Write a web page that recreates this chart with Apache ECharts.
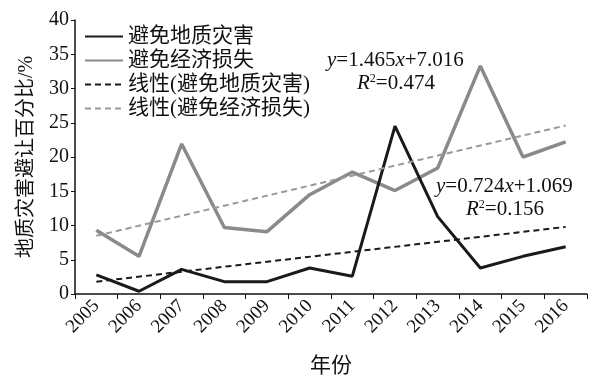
<!DOCTYPE html>
<html><head><meta charset="utf-8">
<script src="https://cdn.jsdelivr.net/npm/echarts@6/dist/echarts.min.js"></script>
<style>html,body{margin:0;padding:0;background:#fff}#c{width:607px;height:382px}</style>
</head><body><div id="c"></div>
<script>
var years = ['2005','2006','2007','2008','2009','2010','2011','2012','2013','2014','2015','2016'];
var disaster = [2.8, 0.4, 3.6, 1.8, 1.8, 3.8, 2.6, 24.5, 11.3, 3.8, 5.5, 6.9];
var economic = [9.3, 5.5, 21.9, 9.7, 9.1, 14.5, 17.8, 15.1, 18.4, 33.3, 20.0, 22.2];
var trendDisaster = [1.8, null, null, null, null, null, null, null, null, null, null, 9.8];
var trendEconomic = [8.5, null, null, null, null, null, null, null, null, null, null, 24.6];
var yTicks = [0, 5, 10, 15, 20, 25, 30, 35, 40];
var names = ['避免地质灾害', '避免经济损失', '线性(避免地质灾害)', '线性(避免经济损失)'];

var FONT = "'Liberation Serif', 'Noto Sans CJK SC', serif";
var chart = echarts.init(document.getElementById('c'));
var rich = {
  i: {fontFamily: FONT, fontStyle: 'italic', fontSize: 21, color: '#111'},
  n: {fontFamily: FONT, fontSize: 21, color: '#111'},
  s: {fontFamily: FONT, fontSize: 12, color: '#111', verticalAlign: 'top', padding: [0,0,9,0]}
};
function eq(x, y, lines) {
  return {type: 'text', left: x, top: y, style: {text: lines, rich: rich, font: '21px ' + FONT, fill: '#111'}};
}
chart.setOption({
  animation: false,
  backgroundColor: '#fff',
  textStyle: {fontFamily: FONT},
  grid: {left: 75, right: 20, top: 20, bottom: 86, containLabel: false},
  legend: {
    orient: 'vertical', left: 79, top: 21, itemWidth: 38, itemHeight: 14, itemGap: 3,
    itemStyle: {opacity: 0},
    textStyle: {fontFamily: FONT, fontSize: 21, color: '#111'},
    data: names
  },
  xAxis: {
    type: 'category', data: years, boundaryGap: true,
    name: '年份', nameLocation: 'middle', nameGap: 62,
    nameTextStyle: {fontFamily: FONT, fontSize: 21, color: '#111'},
    axisLine: {lineStyle: {color: '#111', width: 1.5}},
    axisTick: {show: true, length: 5, lineStyle: {color: '#111'}, alignWithLabel: false},
    axisLabel: {rotate: 45, fontSize: 19, color: '#111', fontFamily: FONT, margin: 9, interval: 0}
  },
  yAxis: {
    type: 'value', min: yTicks[0], max: yTicks[yTicks.length - 1], interval: 5,
    name: '地质灾害避让百分比/%', nameLocation: 'middle', nameGap: 38,
    nameTextStyle: {fontFamily: FONT, fontSize: 20, color: '#111'},
    axisLine: {show: true, lineStyle: {color: '#111', width: 1.5}},
    axisTick: {show: true, length: 4, lineStyle: {color: '#111'}},
    splitLine: {show: false},
    axisLabel: {fontSize: 20, color: '#111', fontFamily: FONT, margin: 6}
  },
  series: [
    {name: names[0], type: 'line', data: disaster, symbol: 'none', z: 4,
     lineStyle: {color: '#1a1a1a', width: 3}, itemStyle: {color: '#1a1a1a'}},
    {name: names[1], type: 'line', data: economic, symbol: 'none', z: 3,
     lineStyle: {color: '#8a8a8a', width: 3.5}, itemStyle: {color: '#8a8a8a'}},
    {name: names[2], type: 'line', data: trendDisaster, symbol: 'none', connectNulls: true, z: 5,
     lineStyle: {color: '#1a1a1a', width: 2, type: [6, 4]}, itemStyle: {color: '#1a1a1a'}},
    {name: names[3], type: 'line', data: trendEconomic, symbol: 'none', connectNulls: true, z: 5,
     lineStyle: {color: '#999999', width: 2, type: [6, 4]}, itemStyle: {color: '#999999'}}
  ],
  graphic: [
    eq(327, 50, '{i|y}{n|=1.465}{i|x}{n|+7.016}'),
    eq(357, 73, '{i|R}{s|2}{n|=0.474}'),
    eq(436, 176, '{i|y}{n|=0.724}{i|x}{n|+1.069}'),
    eq(466, 199, '{i|R}{s|2}{n|=0.156}')
  ]
});
</script></body></html>
